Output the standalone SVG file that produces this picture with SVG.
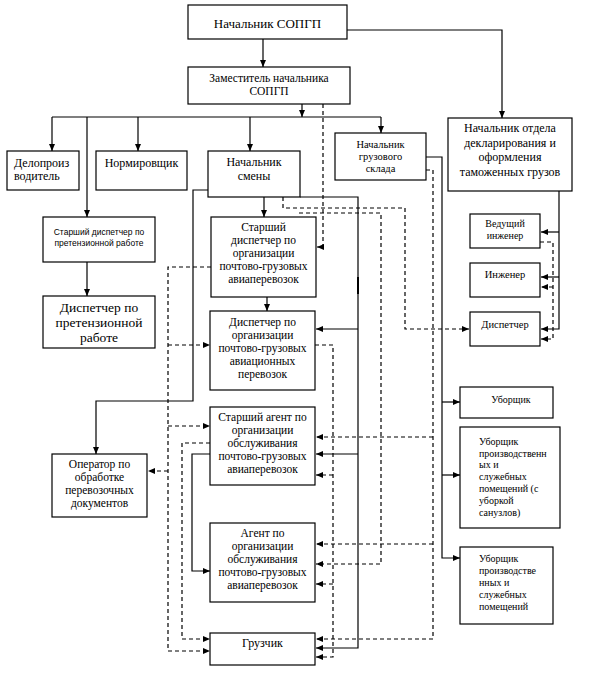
<svg xmlns="http://www.w3.org/2000/svg" width="595" height="690" viewBox="0 0 595 690">
<defs>
<marker id="ah" markerUnits="userSpaceOnUse" markerWidth="7" markerHeight="6" refX="7" refY="3" orient="auto">
<path d="M0,0 L7,3 L0,6 z" fill="#000"/>
</marker>
<style>
.box{fill:#fff;stroke:#000;stroke-width:1.2}
.t{font-family:"Liberation Serif","Times New Roman",serif;font-size:11.5px;fill:#000;text-anchor:middle}
.s{font-size:10.5px}
.l{text-anchor:start}
.sans{font-family:"Liberation Sans",Arial,sans-serif;font-size:8.5px;fill:#000;text-anchor:middle}
.c{fill:none;stroke:#000;stroke-width:1.2}
.d{fill:none;stroke:#000;stroke-width:1.2;stroke-dasharray:4 3}
.a{marker-end:url(#ah)}
</style>
</defs>
<rect width="595" height="690" fill="#fff"/>
<g id="connectors">
<path class="c a" d="M263,39 V67"/>
<path class="c a" d="M347,30 H502 V118"/>
<path class="c a" d="M302,104 V117"/>
<path class="c" d="M52,117 H381"/>
<path class="c a" d="M52,117 V151"/>
<path class="c a" d="M138,117 V151"/>
<path class="c a" d="M250,117 V151"/>
<path class="c a" d="M381,117 V133"/>
<path class="c a" d="M87,117 V217"/>
<path class="c a" d="M87,262 V296"/>
<path class="c a" d="M264,197 V217"/>
<path class="c a" d="M267,297 V311"/>
<path class="c a" d="M208,190 H193 V401 H96 V454"/>
<path class="c a" d="M300,197 H358 V648 H316"/>
<path class="c" style="stroke-width:2" d="M358,277 V294"/>
<path class="c a" d="M358,329 H316"/>
<path class="c a" d="M358,454 H316"/>
<path class="c a" d="M210,454 H192 V571 H210"/>
<path class="c a" d="M426,157 H442 V558 H460"/>
<path class="c a" d="M442,402 H460"/>
<path class="c a" d="M442,475 H460"/>
<path class="c a" d="M559,191 V329 H541"/>
<path class="c a" d="M559,232 H541"/>
<path class="c a" d="M559,277 H541"/>
<path class="d a" d="M323,104 V247 H317"/>
<path class="d a" d="M283,197 V208 H405 V329 H469"/>
<path class="d a" d="M299,213 H381 V564 H316"/>
<path class="d a" d="M426,170 H433 V639 H316"/>
<path class="d a" d="M433,437 H316"/>
<path class="d a" d="M433,544 H316"/>
<path class="d a" d="M211,267 H168 V651 H210"/>
<path class="d a" d="M168,345 H210"/>
<path class="d a" d="M168,426 H210"/>
<path class="d a" d="M168,471 H148"/>
<path class="d a" d="M315,345 H333 V657 H316"/>
<path class="d a" d="M333,475 H316"/>
<path class="d a" d="M333,584 H316"/>
<path class="d a" d="M210,443 H182 V639 H210"/>
<path class="d a" d="M540,242 H553 V339 H541"/>
<path class="d a" d="M553,287 H541"/>
</g>
<g id="n1"><rect class="box" x="188" y="5" width="159" height="34"/><text class="t" x="267.5" y="28" style="font-size:13px">Начальник СОПГП</text></g>
<g id="n2"><rect class="box" x="188" y="67" width="162" height="37"/><text class="t" x="269" y="82">Заместитель начальника</text><text class="t" x="269" y="95">СОПГП</text></g>
<g id="n3"><rect class="box" x="7" y="151" width="72" height="39"/><text class="t l" x="14" y="167" style="font-size:12px">Делопроиз</text><text class="t l" x="14" y="180" style="font-size:12px">водитель</text></g>
<g id="n4"><rect class="box" x="96" y="151" width="91" height="39"/><text class="t" x="141.5" y="167" style="font-size:12px">Нормировщик</text></g>
<g id="n5"><rect class="box" x="208" y="151" width="92" height="46"/><text class="t" x="254" y="166" style="font-size:12px">Начальник</text><text class="t" x="254" y="180" style="font-size:12px">смены</text></g>
<g id="n6"><rect class="box" x="335" y="133" width="91" height="47"/><text class="t s" x="380.5" y="148">Начальник</text><text class="t s" x="380.5" y="160">грузового</text><text class="t s" x="380.5" y="172">склада</text></g>
<g id="n7"><rect class="box" x="448" y="118" width="124" height="73"/><text class="t" x="510" y="132" style="font-size:12px">Начальник отдела</text><text class="t" x="510" y="147" style="font-size:12px">декларирования и</text><text class="t" x="510" y="161" style="font-size:12px">оформления</text><text class="t" x="510" y="176" style="font-size:12px">таможенных грузов</text></g>
<g id="n8"><rect class="box" x="43" y="217" width="112" height="45"/><text class="sans" x="99" y="235">Старший диспетчер по</text><text class="sans" x="99" y="246">претензионной работе</text></g>
<g id="n9"><rect class="box" x="43" y="296" width="112" height="52"/><text class="t" x="99" y="312" style="font-size:13.5px">Диспетчер по</text><text class="t" x="99" y="327" style="font-size:13.5px">претензионной</text><text class="t" x="99" y="342" style="font-size:13.5px">работе</text></g>
<g id="n10"><rect class="box" x="211" y="217" width="105" height="80"/><text class="t" x="263.5" y="231">Старший</text><text class="t" x="263.5" y="244">диспетчер по</text><text class="t" x="263.5" y="257">организации</text><text class="t" x="263.5" y="270">почтово-грузовых</text><text class="t" x="263.5" y="283">авиаперевозок</text></g>
<g id="n11"><rect class="box" x="210" y="311" width="105" height="79"/><text class="t" x="262.5" y="326">Диспетчер по</text><text class="t" x="262.5" y="339">организации</text><text class="t" x="262.5" y="352">почтово-грузовых</text><text class="t" x="262.5" y="365">авиационных</text><text class="t" x="262.5" y="378">перевозок</text></g>
<g id="n12"><rect class="box" x="210" y="407" width="105" height="78"/><text class="t" x="262.5" y="421">Старший агент по</text><text class="t" x="262.5" y="434">организации</text><text class="t" x="262.5" y="447">обслуживания</text><text class="t" x="262.5" y="460">почтово-грузовых</text><text class="t" x="262.5" y="473">авиаперевозок</text></g>
<g id="n13"><rect class="box" x="210" y="523" width="105" height="79"/><text class="t" x="262.5" y="537">Агент по</text><text class="t" x="262.5" y="550">организации</text><text class="t" x="262.5" y="563">обслуживания</text><text class="t" x="262.5" y="576">почтово-грузовых</text><text class="t" x="262.5" y="589">авиаперевозок</text></g>
<g id="n14"><rect class="box" x="210" y="633" width="105" height="32"/><text class="t" x="262.5" y="647" style="font-size:12px">Грузчик</text></g>
<g id="n15"><rect class="box" x="52" y="454" width="95" height="63"/><text class="t" x="99.5" y="468">Оператор по</text><text class="t" x="99.5" y="481">обработке</text><text class="t" x="99.5" y="494">перевозочных</text><text class="t" x="99.5" y="507">документов</text></g>
<g id="n16"><rect class="box" x="470" y="214" width="70" height="34"/><text class="t" x="505" y="227" style="font-size:10px">Ведущий</text><text class="t" x="505" y="239" style="font-size:10px">инженер</text></g>
<g id="n17"><rect class="box" x="470" y="263" width="70" height="34"/><text class="t s" x="505" y="278">Инженер</text></g>
<g id="n18"><rect class="box" x="470" y="312" width="70" height="34"/><text class="t s" x="505" y="328">Диспетчер</text></g>
<g id="n19"><rect class="box" x="460" y="387" width="93" height="31"/><text class="t" x="511" y="403" style="font-size:10px">Уборщик</text></g>
<g id="n20"><rect class="box" x="460" y="427" width="100" height="101"/><text class="t l" x="479" y="445" style="font-size:10px">Уборщик</text><text class="t l" x="479" y="457" style="font-size:10px">производственн</text><text class="t l" x="479" y="468" style="font-size:10px">ых и</text><text class="t l" x="479" y="480" style="font-size:10px">служебных</text><text class="t l" x="479" y="492" style="font-size:10px">помещений (с</text><text class="t l" x="479" y="504" style="font-size:10px">уборкой</text><text class="t l" x="479" y="516" style="font-size:10px">санузлов)</text></g>
<g id="n21"><rect class="box" x="460" y="547" width="93" height="77"/><text class="t l" x="479" y="562" style="font-size:10px">Уборщик</text><text class="t l" x="479" y="574" style="font-size:10px">производстве</text><text class="t l" x="479" y="586" style="font-size:10px">нных и</text><text class="t l" x="479" y="598" style="font-size:10px">служебных</text><text class="t l" x="479" y="610" style="font-size:10px">помещений</text></g>
</svg>
